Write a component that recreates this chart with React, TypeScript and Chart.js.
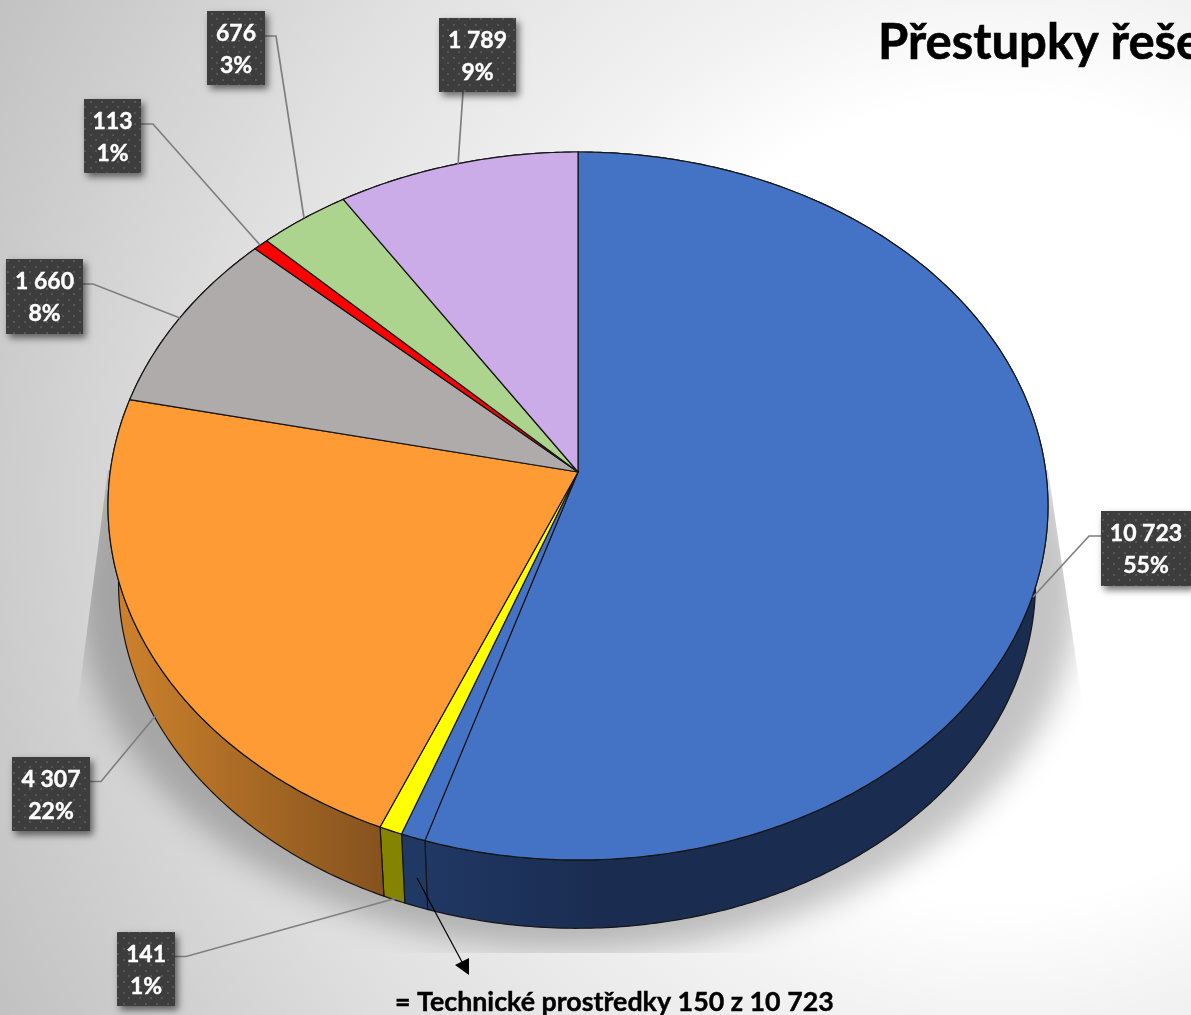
import React, { useEffect, useRef } from 'react';
import { Chart, registerables, ArcElement, PieController } from 'chart.js';

// ---- data ----
const categories = ['Ostatní 10 573', 'Technické prostředky', 'Žlutá', 'Oranžová', 'Šedá', 'Červená', 'Zelená', 'Fialová'];
const sliceValues = [10573, 150, 141, 4307, 1660, 113, 676, 1789];
const labelValues = ['10 723', '141', '4 307', '1 660', '113', '676', '1 789'];
const labelPercents = ['55%', '1%', '22%', '8%', '1%', '3%', '9%'];
const titleText = 'Přestupky řeše';
const noteText = '= Technické prostředky 150 z 10 723';

// ---- styles ----
const topColors = ['#4472C4', '#4472C4', '#FFFF00', '#FF9B35', '#AFABAB', '#FF0000', '#ADD48E', '#CCACE8'];
const wallColors = [['#203864', '#1A2C50'], ['#203864', '#203864'], ['#848400', '#848400'], ['#C97F2B', '#85521E'], ['#777', '#777'], ['#900', '#900'], ['#6a8', '#6a8'], ['#86a', '#86a']];
const wallSpans = [[425, 600], [400, 430], [380, 405], [130, 385], [0, 1], [0, 1], [0, 1], [0, 1]];
const boxes = [[1101, 511, 91, 75], [117, 932, 58, 74], [12, 757, 78, 74], [6, 259, 77, 75], [84, 99, 57, 74], [207, 11, 58, 74], [439, 18, 77, 74]];
const leaders = [
  [[1101, 536], [1089, 536], [1033, 597]],
  [[175, 956.5], [186, 956.5], [397, 898]],
  [[90, 781.5], [101, 781.5], [157, 714]],
  [[83, 284], [93, 284], [180, 318]],
  [[141, 124], [153, 124], [260, 245]],
  [[265, 36], [276, 36], [304, 218]],
  [[463, 92], [458, 165]],
];

// Perspective of the disc: a circle mapped through a homography, so the apex sits off the ellipse centre
const AX = 578, AY = 472, DX = 467.8, KV = 305.4, KC = -0.096, WARP = (1.2 * Math.PI) / 180;
const CY = 506, BCX = 577, BCY = 583, BS = 0.9755;
function rimTop(angle: number) {
  const a = angle + WARP * Math.sin((angle + Math.PI / 2) / 2);
  const u = Math.cos(a), v = Math.sin(a), den = 1 + KC * v;
  return [AX + (DX * u) / den, (KV * v + AY) / den];
}
function rimBottom(a: number) {
  const [x, y] = rimTop(a);
  return [BCX + BS * (x - AX), BCY + BS * (y - CY)];
}

class ProjectedArc extends ArcElement {
  static id = 'projectedArc';
  draw(ctx: CanvasRenderingContext2D) {
    const { startAngle: s, endAngle: e } = this as any;
    const n = Math.max(2, Math.ceil((e - s) / 0.01));
    ctx.save();
    ctx.beginPath();
    ctx.moveTo(AX, AY);
    for (let i = 0; i <= n; i++) {
      const [x, y] = rimTop(s + ((e - s) * i) / n);
      ctx.lineTo(x, y);
    }
    ctx.closePath();
    ctx.fillStyle = (this as any).options.backgroundColor;
    ctx.fill();
    ctx.lineJoin = 'round';
    ctx.lineWidth = 1.2;
    ctx.strokeStyle = '#151515';
    ctx.stroke();
    ctx.restore();
  }
  drawWall(ctx: CanvasRenderingContext2D, index: number) {
    const { startAngle: s, endAngle: e } = this as any;
    const n = Math.max(2, Math.ceil((e - s) / 0.01));
    ctx.save();
    ctx.beginPath();
    for (let i = 0; i <= n; i++) {
      const [x, y] = rimTop(s + ((e - s) * i) / n);
      if (i === 0) ctx.moveTo(x, y);
      else ctx.lineTo(x, y);
    }
    for (let i = n; i >= 0; i--) {
      const [x, y] = rimBottom(s + ((e - s) * i) / n);
      ctx.lineTo(x, y);
    }
    ctx.closePath();
    const g = ctx.createLinearGradient(wallSpans[index][0], 0, wallSpans[index][1], 0);
    g.addColorStop(0, wallColors[index][0]);
    g.addColorStop(1, wallColors[index][1]);
    ctx.fillStyle = g;
    ctx.fill();
    ctx.lineWidth = 1.2;
    ctx.strokeStyle = '#151515';
    ctx.stroke();
    ctx.restore();
  }
}

class Pie3DController extends PieController {
  static id = 'pie3d';
  static defaults = { ...PieController.defaults, dataElementType: 'projectedArc' };
}

Chart.register(...registerables, ProjectedArc, Pie3DController);

function dotPattern(ctx: CanvasRenderingContext2D) {
  const c = document.createElement('canvas');
  c.width = 11;
  c.height = 11;
  const p = c.getContext('2d')!;
  p.fillStyle = '#3D3D3D';
  p.fillRect(0, 0, 11, 11);
  p.fillStyle = 'rgba(255,255,255,0.13)';
  p.fillRect(2, 2, 2, 2);
  p.fillRect(7, 7, 2, 2);
  return ctx.createPattern(c, 'repeat')!;
}

const scene = {
  id: 'scene',
  beforeDraw(chart: any) {
    const ctx: CanvasRenderingContext2D = chart.ctx;
    const w = chart.width, h = chart.height;
    ctx.save();
    const g = ctx.createRadialGradient(1000, 500, 0, 1000, 500, 1150);
    g.addColorStop(0, '#ffffff');
    g.addColorStop(0.35, '#ffffff');
    g.addColorStop(0.46, '#f2f2f2');
    g.addColorStop(0.68, '#e0e0e0');
    g.addColorStop(0.97, '#c2c2c2');
    g.addColorStop(1, '#bfbfbf');
    ctx.fillStyle = g;
    ctx.fillRect(0, 0, w, h);
    // soft shadow under the disc, cut to a trapezoid as in the reference
    ctx.beginPath();
    ctx.moveTo(108, 470);
    ctx.lineTo(78, 700);
    ctx.lineTo(78, 953);
    ctx.lineTo(1082, 953);
    ctx.lineTo(1082, 700);
    ctx.lineTo(1048, 470);
    ctx.closePath();
    ctx.clip();
    ctx.filter = 'blur(15px)';
    ctx.fillStyle = 'rgba(0,0,0,0.23)';
    ctx.beginPath();
    ctx.ellipse(578, 590, 500, 360, 0, 0, Math.PI * 2);
    ctx.fill();
    ctx.restore();
  },
  beforeDatasetsDraw(chart: any) {
    const meta = chart.getDatasetMeta(0);
    meta.data.forEach((el: any, i: number) => el.drawWall(chart.ctx, i));
  },
  afterDatasetsDraw(chart: any) {
    const ctx: CanvasRenderingContext2D = chart.ctx;
    ctx.save();
    // leader lines
    ctx.strokeStyle = '#7F7F7F';
    ctx.lineWidth = 1.7;
    leaders.forEach((pts) => {
      ctx.beginPath();
      pts.forEach(([x, y], i) => (i ? ctx.lineTo(x, y) : ctx.moveTo(x, y)));
      ctx.stroke();
    });
    // label boxes
    const pat = dotPattern(ctx);
    boxes.forEach(([x, y, bw, bh], i) => {
      ctx.save();
      ctx.shadowColor = 'rgba(0,0,0,0.55)';
      ctx.shadowBlur = 7;
      ctx.shadowOffsetX = 3;
      ctx.shadowOffsetY = 4;
      ctx.fillStyle = '#3D3D3D';
      ctx.fillRect(x, y, bw, bh);
      ctx.restore();
      ctx.fillStyle = pat;
      ctx.fillRect(x, y, bw, bh);
      ctx.fillStyle = '#fff';
      ctx.strokeStyle = '#fff';
      ctx.lineWidth = 0.4;
      ctx.font = 'bold 23px Lato';
      ctx.textAlign = 'center';
      ctx.textBaseline = 'alphabetic';
      const cx = x + bw / 2 - (i === 0 ? 0.5 : 0);
      ctx.fillText(labelValues[i], cx, y + 30);
      ctx.strokeText(labelValues[i], cx, y + 30);
      ctx.fillText(labelPercents[i], cx, y + 62);
      ctx.strokeText(labelPercents[i], cx, y + 62);
    });
    // arrow to the note
    ctx.strokeStyle = '#000';
    ctx.lineWidth = 1.2;
    ctx.beginPath();
    ctx.moveTo(417, 878);
    ctx.lineTo(462, 962);
    ctx.stroke();
    ctx.fillStyle = '#000';
    ctx.beginPath();
    ctx.moveTo(469, 975);
    ctx.lineTo(455, 965);
    ctx.lineTo(469, 958);
    ctx.closePath();
    ctx.fill();
    // texts
    ctx.textAlign = 'left';
    ctx.fillStyle = '#000';
    ctx.strokeStyle = '#000';
    ctx.lineWidth = 0.4;
    ctx.font = 'bold 26.8px Lato';
    ctx.fillText(noteText, 395, 1011);
    ctx.strokeText(noteText, 395, 1011);
    ctx.font = 'bold 49px Lato';
    ctx.fillText(titleText, 878, 59);
    ctx.lineWidth = 0.6;
    ctx.strokeText(titleText, 878, 59);
    ctx.restore();
  },
};

export default function App() {
  const ref = useRef<HTMLCanvasElement>(null);
  useEffect(() => {
    const chart = new Chart(ref.current!, {
      type: 'pie3d' as any,
      data: {
        labels: categories,
        datasets: [{ data: sliceValues, backgroundColor: topColors, borderWidth: 0 }],
      },
      options: {
        animation: false,
        responsive: false,
        maintainAspectRatio: false,
        rotation: 0,
        plugins: { legend: { display: false }, tooltip: { enabled: false }, title: { display: false } },
      } as any,
      plugins: [scene as any],
    });
    return () => chart.destroy();
  }, []);
  return (
    <div style={{ position: 'absolute', left: 0, top: 0, width: 1191, height: 1015, overflow: 'hidden' }}>
      <canvas ref={ref} width={1191} height={1015} style={{ display: 'block' }} />
    </div>
  );
}
